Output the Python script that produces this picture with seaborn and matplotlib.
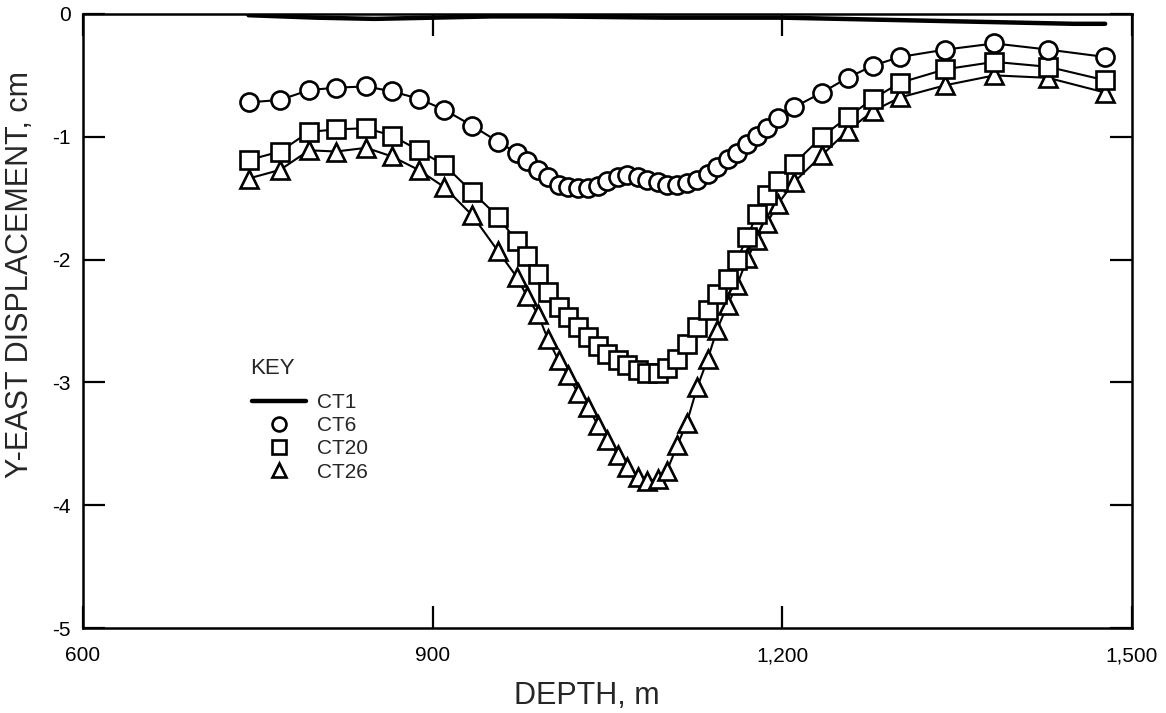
import numpy as np
import pandas as pd
import matplotlib
matplotlib.use("Agg")
import matplotlib.pyplot as plt
from matplotlib.lines import Line2D
from matplotlib.ticker import FixedLocator, FixedFormatter
import seaborn as sns

# ---------------- data ----------------
depth = [742, 769, 794, 817, 843, 865, 888, 910, 934, 956,
         972, 981, 990, 999, 1008, 1016, 1025, 1033, 1042, 1050,
         1059, 1067, 1076, 1084, 1093, 1101, 1110, 1118, 1127, 1136,
         1144, 1153, 1161, 1170, 1178, 1187, 1196, 1210, 1234, 1256,
         1278, 1301, 1340, 1382, 1428, 1477]

ct6 = [-0.72, -0.70, -0.62, -0.60, -0.59, -0.63, -0.69, -0.78, -0.91, -1.04,
       -1.13, -1.20, -1.27, -1.33, -1.39, -1.41, -1.42, -1.42, -1.40, -1.36,
       -1.33, -1.31, -1.33, -1.35, -1.37, -1.39, -1.39, -1.38, -1.35, -1.30,
       -1.25, -1.18, -1.13, -1.06, -0.99, -0.93, -0.85, -0.76, -0.64, -0.52,
       -0.42, -0.35, -0.29, -0.24, -0.29, -0.35]

ct20 = [-1.19, -1.12, -0.96, -0.94, -0.93, -0.99, -1.11, -1.23, -1.45, -1.65,
        -1.85, -1.97, -2.12, -2.26, -2.39, -2.47, -2.55, -2.63, -2.70, -2.77,
        -2.82, -2.86, -2.90, -2.92, -2.92, -2.88, -2.81, -2.69, -2.55, -2.41,
        -2.28, -2.16, -2.00, -1.82, -1.63, -1.47, -1.36, -1.22, -1.00, -0.84,
        -0.69, -0.56, -0.45, -0.39, -0.43, -0.54]

ct26 = [-1.34, -1.27, -1.11, -1.12, -1.09, -1.16, -1.27, -1.41, -1.64, -1.93,
        -2.14, -2.30, -2.44, -2.65, -2.82, -2.94, -3.09, -3.20, -3.35, -3.47,
        -3.59, -3.69, -3.77, -3.80, -3.79, -3.72, -3.51, -3.33, -3.04, -2.81,
        -2.57, -2.37, -2.21, -1.99, -1.84, -1.70, -1.55, -1.37, -1.15, -0.95,
        -0.79, -0.68, -0.58, -0.50, -0.52, -0.64]

ct1_depth = [742, 800, 850, 900, 950, 1000, 1100, 1200, 1300, 1350, 1400, 1450, 1477]
ct1 = [-0.01, -0.03, -0.04, -0.03, -0.02, -0.02, -0.03, -0.03, -0.05, -0.06, -0.07, -0.08, -0.08]

xticks = [600, 900, 1200, 1500]
xtick_labels = ["600", "900", "1,200", "1,500"]
yticks = [0, -1, -2, -3, -4, -5]
ytick_labels = ["0", "-1", "-2", "-3", "-4", "-5"]

series_labels = ["CT1", "CT6", "CT20", "CT26"]
key_title = "KEY"

# ---------------- styling ----------------
sns.set_style("ticks")
plt.rcParams["font.family"] = ["Liberation Sans", "DejaVu Sans"]

fig = plt.figure(figsize=(11.66, 7.13), dpi=100)
ax = fig.add_axes([0.0712, 0.1192, 0.8996, 0.8612])

df1 = pd.DataFrame({"depth": ct1_depth, "val": ct1})
dfm = pd.DataFrame({"depth": depth, "CT6": ct6, "CT20": ct20, "CT26": ct26})

sns.lineplot(data=df1, x="depth", y="val", color="black", linewidth=3.2, ax=ax)

msize = 13
common = dict(color="black", linewidth=1.5, markerfacecolor="white",
              markeredgecolor="black", markeredgewidth=1.9, markersize=msize, ax=ax)
sns.lineplot(data=dfm, x="depth", y="CT26", marker="^", **common)
sns.lineplot(data=dfm, x="depth", y="CT20", marker="s", **common)
sns.lineplot(data=dfm, x="depth", y="CT6", marker="o", **common)

ax.set_xlim(600, 1500)
ax.set_ylim(-5, 0)
ax.xaxis.set_major_locator(FixedLocator(xticks))
ax.xaxis.set_major_formatter(FixedFormatter(xtick_labels))
ax.yaxis.set_major_locator(FixedLocator(yticks))
ax.yaxis.set_major_formatter(FixedFormatter(ytick_labels))

ax.tick_params(axis="both", which="major", direction="in", length=16, width=1.6,
               labelsize=15, colors="black", top=True, right=True)
ax.tick_params(axis="x", pad=13)
ax.tick_params(axis="y", pad=9)
for s in ax.spines.values():
    s.set_visible(True)
    s.set_linewidth(1.8)
    s.set_color("black")

ax.set_xlabel("DEPTH, m", fontsize=22)
ax.xaxis.set_label_coords(0.48, -0.087)
ax.set_ylabel("Y-EAST DISPLACEMENT, cm", fontsize=22)
ax.yaxis.set_label_coords(-0.046, 0.575)

handles = [
    Line2D([], [], color="black", linewidth=3.2),
    Line2D([], [], linestyle="none", marker="o", markersize=10, markerfacecolor="white",
           markeredgecolor="black", markeredgewidth=1.9),
    Line2D([], [], linestyle="none", marker="s", markersize=10, markerfacecolor="white",
           markeredgecolor="black", markeredgewidth=1.9),
    Line2D([], [], linestyle="none", marker="^", markersize=10, markerfacecolor="white",
           markeredgecolor="black", markeredgewidth=1.9),
]
leg = ax.legend(handles, series_labels, loc="upper left",
                bbox_to_anchor=(252 / 1166, 1 - 393 / 713), bbox_transform=fig.transFigure,
                frameon=False, fontsize=15, handlelength=2.6, handletextpad=0.5,
                labelspacing=0.2, borderpad=0, borderaxespad=0)
fig.text(250 / 1166, 1 - 368 / 713, key_title, fontsize=16, ha="left", va="center")

fig.savefig("out.png", dpi=100)
